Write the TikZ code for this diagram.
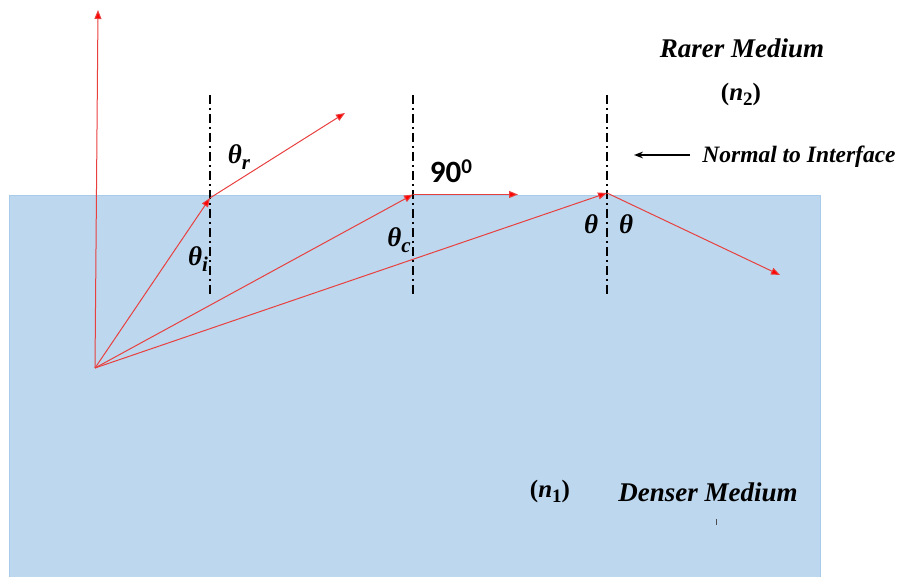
\documentclass[tikz,border=0pt]{standalone}
\usepackage{fontspec}
\setmainfont{Liberation Serif}
\newfontfamily\calfont{Carlito}
\usetikzlibrary{arrows.meta}
\definecolor{denserbg}{HTML}{BDD7EE}
\definecolor{denserline}{HTML}{A9CBEA}
\definecolor{rayred}{HTML}{E8403F}
% angle symbol with a lowered subscript
\newcommand{\angsym}[2]{θ\raisebox{-6pt}{\fontsize{21}{22}\selectfont #2}}
\newcommand{\indexsym}[1]{\textup{(}n\raisebox{-5pt}{\fontsize{19}{20}\selectfont\textup{#1}}\textup{)}}

\begin{document}
\begin{tikzpicture}[
    x=1pt, y=-1pt,
    ray/.style={-{Triangle[length=9pt, width=7pt, fill=red]}, rayred, line width=1pt},
    normalline/.style={black, line width=2.6pt, dash pattern=on 9pt off 4pt on 2pt off 4pt},
    anglelbl/.style={font=\fontsize{27}{30}\selectfont\bfseries\itshape},
    indexlbl/.style={font=\fontsize{25}{28}\selectfont\bfseries\itshape},
    medlbl/.style={font=\fontsize{27}{30}\selectfont\bfseries\itshape},
  ]
  \useasboundingbox (0,0) rectangle (902,577);

  % ── Denser medium ──
  \fill[denserbg] (9,195) rectangle (820,577);
  \draw[denserline, line width=0.6pt] (9,577) -- (9,195) -- (820,195) -- (820,577);

  % ── Points on the rays ──
  \coordinate (src) at (95,368);
  \coordinate (up) at (98,10);
  \coordinate (inc) at (210,198);
  \coordinate (refr) at (345,113);
  \coordinate (crit) at (413,194.5);
  \coordinate (graze) at (518,194.5);
  \coordinate (tir) at (607,193);
  \coordinate (refl) at (780,275);

  % ── Normals ──
  \foreach \nx in {210,413,607}
    \draw[normalline] (\nx,95) -- (\nx,295);

  % ── Rays ──
  \draw[ray] (src) -- (up);
  \draw[ray] (src) -- (inc);
  \draw[ray] (inc) -- (refr);
  \draw[ray] (src) -- (crit);
  \draw[ray] (crit) -- (graze);
  \draw[ray] (src) -- (tir);
  \draw[ray] (tir) -- (refl);

  % ── Angle labels ──
  \node[anglelbl] (thr) at (239,157) {\angsym{θ}{r}};
  \node[anglelbl] (thi) at (198,259) {\angsym{θ}{i}};
  \node[anglelbl] (thc) at (399,240) {\angsym{θ}{c}};
  \node[font=\fontsize{31}{34}\selectfont\calfont\bfseries] (ninety) at (451,171) {90\raisebox{9pt}{\fontsize{21}{22}\selectfont 0}};
  \node[anglelbl] (thl) at (591,224) {θ};
  \node[anglelbl] (thrr) at (626,224) {θ};

  % ── Media ──
  \node[medlbl] (rarer) at (742,48) {Rarer Medium};
  \node[indexlbl] (ntwo) at (741,94) {\indexsym{2}};
  \node[medlbl] (denser) at (708,492) {Denser Medium};
  \node[indexlbl] (none) at (550,491) {\indexsym{1}};
  \draw[black!70, line width=0.8pt] (716,519) -- (716,525);

  % ── Normal label ──
  \node[font=\fontsize{23.5}{26}\selectfont\bfseries\itshape] (nlbl) at (799,157) {Normal to Interface};
  \coordinate (ntail) at (690,155);
  \coordinate (ntip) at (634,155);
  \draw[-{Stealth[length=9pt]}, line width=1.6pt] (ntail) -- (ntip);

\end{tikzpicture}
\end{document}
